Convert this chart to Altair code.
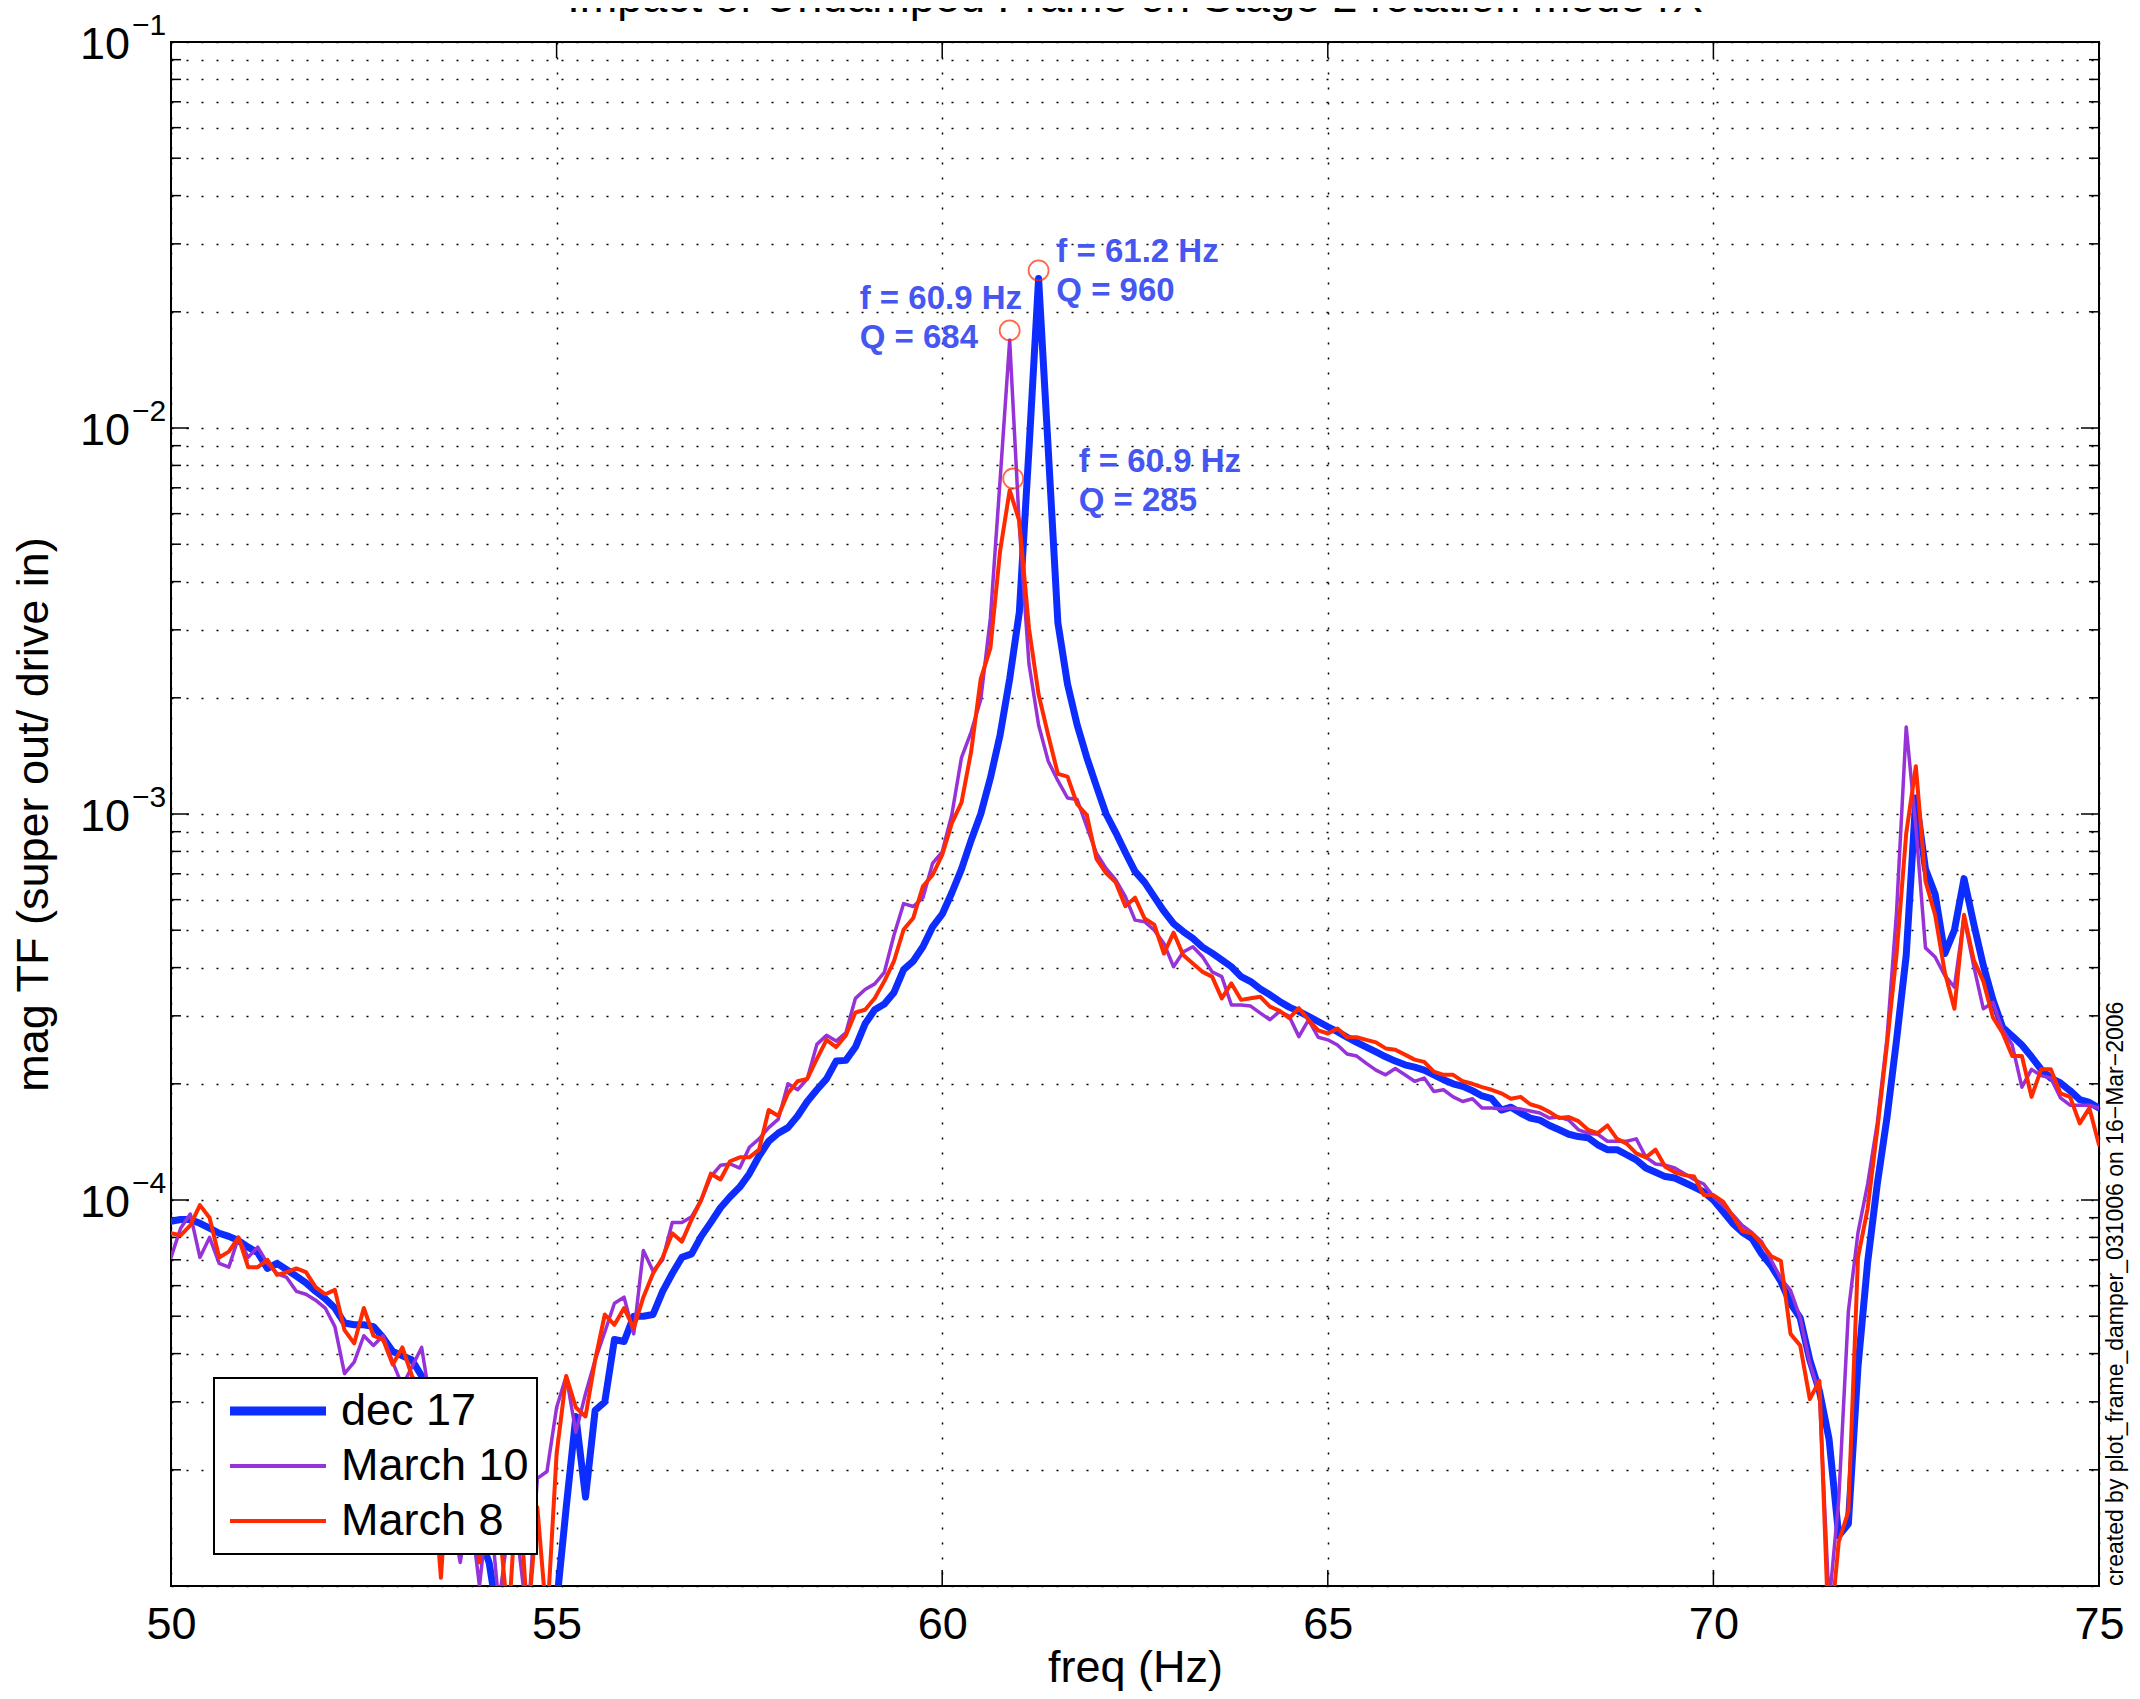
import altair as alt
import pandas as pd

# ---------------- data ----------------
# spectra sampled every 0.125 Hz from 50 Hz to 75 Hz
freq = [round(50 + 0.125 * i, 3) for i in range(201)]

dec17 = [
    8.8e-5, 8.9e-5, 8.9e-5, 8.7e-5, 8.45e-5, 8.2e-5, 8.05e-5, 7.85e-5,
    7.55e-5, 7.3e-5, 6.65e-5, 6.85e-5, 6.6e-5, 6.35e-5, 6.1e-5, 5.8e-5,
    5.55e-5, 5.25e-5, 4.8e-5, 4.75e-5, 4.75e-5, 4.7e-5, 4.4e-5, 4.05e-5,
    3.95e-5, 3.85e-5, 3.5e-5, 3.0e-5, 2.7e-5, 2.3e-5, 1.9e-5, 1.6e-5,
    1.35e-5, 1.15e-5, 8e-6, 7e-6, 6e-6, 6e-6, 6e-6, 7e-6,
    9e-6, 1.6e-5, 2.75e-5, 1.7e-5, 2.85e-5, 3.0e-5, 4.35e-5, 4.3e-5,
    5.0e-5, 5.0e-5, 5.05e-5, 5.8e-5, 6.45e-5, 7.1e-5, 7.25e-5, 8.05e-5,
    8.75e-5, 9.55e-5, 1.02e-4, 1.08e-4, 1.17e-4, 1.3e-4, 1.42e-4, 1.49e-4,
    1.54e-4, 1.65e-4, 1.8e-4, 1.93e-4, 2.06e-4, 2.29e-4, 2.3e-4, 2.49e-4,
    2.86e-4, 3.11e-4, 3.22e-4, 3.45e-4, 3.95e-4, 4.16e-4, 4.53e-4, 5.1e-4,
    5.5e-4, 6.25e-4, 7.2e-4, 8.55e-4, 1.0e-3, 1.24e-3, 1.6e-3, 2.24e-3,
    3.33e-3, 8.8e-3, 2.44e-2, 8.8e-3, 3.13e-3, 2.17e-3, 1.7e-3, 1.4e-3,
    1.18e-3, 1.0e-3, 8.95e-4, 7.95e-4, 7.1e-4, 6.65e-4, 6.1e-4, 5.6e-4,
    5.2e-4, 4.96e-4, 4.76e-4, 4.52e-4, 4.36e-4, 4.19e-4, 4.02e-4, 3.79e-4,
    3.68e-4, 3.52e-4, 3.4e-4, 3.27e-4, 3.16e-4, 3.08e-4, 2.99e-4, 2.9e-4,
    2.81e-4, 2.73e-4, 2.64e-4, 2.56e-4, 2.49e-4, 2.42e-4, 2.35e-4, 2.29e-4,
    2.24e-4, 2.21e-4, 2.17e-4, 2.11e-4, 2.05e-4, 2.0e-4, 1.97e-4, 1.92e-4,
    1.86e-4, 1.83e-4, 1.71e-4, 1.74e-4, 1.68e-4, 1.63e-4, 1.61e-4, 1.56e-4,
    1.52e-4, 1.48e-4, 1.46e-4, 1.45e-4, 1.39e-4, 1.35e-4, 1.35e-4, 1.31e-4,
    1.27e-4, 1.21e-4, 1.18e-4, 1.15e-4, 1.14e-4, 1.11e-4, 1.08e-4, 1.05e-4,
    1.0e-4, 9.33e-5, 8.7e-5, 8.25e-5, 7.95e-5, 7.25e-5, 6.75e-5, 6.15e-5,
    5.4e-5, 4.95e-5, 3.85e-5, 3.2e-5, 2.4e-5, 1.35e-5, 1.45e-5, 3.7e-5,
    6.9e-5, 1.1e-4, 1.63e-4, 2.6e-4, 4.3e-4, 1.1e-3, 7.2e-4, 6.2e-4,
    4.35e-4, 5.0e-4, 6.8e-4, 5.2e-4, 4.05e-4, 3.3e-4, 2.8e-4, 2.66e-4,
    2.52e-4, 2.35e-4, 2.18e-4, 2.07e-4, 2.01e-4, 1.92e-4, 1.82e-4, 1.79e-4,
    1.73e-4,
]

march10 = [
    7.1e-5, 8.45e-5, 9.2e-5, 7.1e-5, 8.0e-5, 6.85e-5, 6.7e-5, 8.0e-5,
    7.1e-5, 7.55e-5, 6.85e-5, 6.45e-5, 6.3e-5, 5.8e-5, 5.7e-5, 5.5e-5,
    5.25e-5, 4.7e-5, 3.55e-5, 3.8e-5, 4.45e-5, 4.2e-5, 4.45e-5, 3.8e-5,
    3.3e-5, 3.7e-5, 4.15e-5, 2.9e-5, 2.3e-5, 1.6e-5, 1.15e-5, 1.6e-5,
    1.0e-5, 1.7e-5, 9e-6, 1.4e-5, 1.3e-5, 8e-6, 1.9e-5, 1.98e-5,
    2.9e-5, 3.5e-5, 2.5e-5, 3.15e-5, 3.85e-5, 4.55e-5, 5.4e-5, 5.6e-5,
    4.5e-5, 7.4e-5, 6.55e-5, 7.0e-5, 8.75e-5, 8.75e-5, 9.05e-5, 1.0e-4,
    1.15e-4, 1.23e-4, 1.24e-4, 1.21e-4, 1.37e-4, 1.44e-4, 1.54e-4, 1.62e-4,
    2.0e-4, 1.93e-4, 2.06e-4, 2.53e-4, 2.67e-4, 2.58e-4, 2.71e-4, 3.33e-4,
    3.51e-4, 3.63e-4, 3.89e-4, 4.86e-4, 5.86e-4, 5.76e-4, 6.07e-4, 7.45e-4,
    7.98e-4, 9.97e-4, 1.4e-3, 1.63e-3, 1.98e-3, 3.22e-3, 7.3e-3, 1.69e-2,
    5.57e-3, 2.45e-3, 1.7e-3, 1.37e-3, 1.22e-3, 1.1e-3, 1.09e-3, 9.27e-4,
    7.91e-4, 7.23e-4, 6.75e-4, 6.11e-4, 5.31e-4, 5.26e-4, 5.0e-4, 4.62e-4,
    4.02e-4, 4.39e-4, 4.53e-4, 4.27e-4, 3.9e-4, 3.79e-4, 3.2e-4, 3.2e-4,
    3.18e-4, 3.05e-4, 2.93e-4, 3.08e-4, 2.99e-4, 2.65e-4, 2.93e-4, 2.64e-4,
    2.6e-4, 2.52e-4, 2.39e-4, 2.36e-4, 2.26e-4, 2.17e-4, 2.11e-4, 2.19e-4,
    2.11e-4, 2.03e-4, 2.07e-4, 1.91e-4, 1.93e-4, 1.85e-4, 1.8e-4, 1.83e-4,
    1.73e-4, 1.73e-4, 1.72e-4, 1.73e-4, 1.72e-4, 1.7e-4, 1.68e-4, 1.63e-4,
    1.64e-4, 1.61e-4, 1.52e-4, 1.49e-4, 1.48e-4, 1.42e-4, 1.42e-4, 1.42e-4,
    1.44e-4, 1.29e-4, 1.24e-4, 1.23e-4, 1.21e-4, 1.17e-4, 1.13e-4, 1.1e-4,
    1.02e-4, 9.68e-5, 9.16e-5, 8.59e-5, 8.23e-5, 7.79e-5, 6.98e-5, 6.26e-5,
    5.83e-5, 4.96e-5, 3.78e-5, 3.15e-5, 9e-6, 1.67e-5, 5.14e-5, 8.23e-5,
    1.1e-4, 1.58e-4, 2.61e-4, 5.58e-4, 1.68e-3, 9.27e-4, 4.5e-4, 4.26e-4,
    3.82e-4, 3.56e-4, 5.4e-4, 4.04e-4, 3.13e-4, 3.25e-4, 2.76e-4, 2.52e-4,
    1.96e-4, 2.18e-4, 2.1e-4, 2.07e-4, 1.84e-4, 1.76e-4, 1.76e-4, 1.76e-4,
    1.73e-4,
]

march8 = [
    8.2e-5, 8.1e-5, 8.6e-5, 9.7e-5, 9.0e-5, 7.1e-5, 7.35e-5, 8.0e-5,
    6.7e-5, 6.7e-5, 7.0e-5, 6.4e-5, 6.5e-5, 6.65e-5, 6.5e-5, 5.95e-5,
    5.7e-5, 5.85e-5, 4.6e-5, 4.25e-5, 5.25e-5, 4.45e-5, 4.35e-5, 3.75e-5,
    4.15e-5, 3.5e-5, 3.2e-5, 2.2e-5, 1.05e-5, 2.5e-5, 1.8e-5, 2.0e-5,
    1.15e-5, 2.2e-5, 1.5e-5, 8e-6, 2.0e-5, 8e-6, 1.6e-5, 8e-6,
    2.2e-5, 3.5e-5, 2.9e-5, 2.75e-5, 3.85e-5, 5.05e-5, 4.75e-5, 5.25e-5,
    4.65e-5, 5.6e-5, 6.45e-5, 7.1e-5, 8.2e-5, 7.8e-5, 8.9e-5, 1.0e-4,
    1.17e-4, 1.13e-4, 1.26e-4, 1.29e-4, 1.29e-4, 1.35e-4, 1.71e-4, 1.65e-4,
    1.89e-4, 2.03e-4, 2.06e-4, 2.32e-4, 2.6e-4, 2.49e-4, 2.67e-4, 3.06e-4,
    3.11e-4, 3.33e-4, 3.69e-4, 4.16e-4, 5.02e-4, 5.38e-4, 6.5e-4, 6.95e-4,
    7.84e-4, 9.47e-4, 1.07e-3, 1.45e-3, 2.24e-3, 2.69e-3, 4.79e-3, 6.9e-3,
    5.74e-3, 3.03e-3, 2.04e-3, 1.6e-3, 1.27e-3, 1.25e-3, 1.06e-3, 9.94e-4,
    7.65e-4, 7.03e-4, 6.65e-4, 5.77e-4, 6.07e-4, 5.36e-4, 5.17e-4, 4.35e-4,
    4.93e-4, 4.31e-4, 4.1e-4, 3.9e-4, 3.79e-4, 3.33e-4, 3.64e-4, 3.3e-4,
    3.33e-4, 3.36e-4, 3.17e-4, 3.09e-4, 2.96e-4, 3.14e-4, 2.93e-4, 2.75e-4,
    2.7e-4, 2.78e-4, 2.64e-4, 2.64e-4, 2.6e-4, 2.56e-4, 2.47e-4, 2.45e-4,
    2.38e-4, 2.31e-4, 2.28e-4, 2.15e-4, 2.11e-4, 2.11e-4, 2.03e-4, 2.0e-4,
    1.96e-4, 1.93e-4, 1.89e-4, 1.83e-4, 1.85e-4, 1.77e-4, 1.74e-4, 1.69e-4,
    1.63e-4, 1.64e-4, 1.6e-4, 1.52e-4, 1.49e-4, 1.56e-4, 1.44e-4, 1.4e-4,
    1.32e-4, 1.29e-4, 1.35e-4, 1.22e-4, 1.18e-4, 1.16e-4, 1.15e-4, 1.03e-4,
    1.03e-4, 9.9e-5, 9.1e-5, 8.3e-5, 8.2e-5, 7.7e-5, 7.15e-5, 6.95e-5,
    4.5e-5, 4.2e-5, 3.05e-5, 3.4e-5, 7e-6, 1.3e-5, 1.56e-5, 7.1e-5,
    9.5e-5, 1.52e-4, 2.52e-4, 4.33e-4, 8.9e-4, 1.33e-3, 6.7e-4, 5.48e-4,
    3.89e-4, 3.13e-4, 5.48e-4, 4.19e-4, 3.69e-4, 2.97e-4, 2.71e-4, 2.36e-4,
    2.36e-4, 1.85e-4, 2.18e-4, 2.18e-4, 1.89e-4, 1.85e-4, 1.58e-4, 1.73e-4,
    1.39e-4,
]

series_names = ["dec 17", "March 10", "March 8"]
series_colors = ["#0d2dff", "#9632d7", "#ff2a00"]
series_widths = [7, 3.5, 4]

# fitted resonance peaks (circles) and their labels
peak_freq = [61.25, 60.875, 60.92]
peak_mag = [0.0256, 0.0179, 0.0074]
peak_label_f = ["f = 61.2 Hz", "f = 60.9 Hz", "f = 60.9 Hz"]
peak_label_q = ["Q = 960", "Q = 684", "Q = 285"]
label_freq = [61.48, 58.93, 61.77]
label_mag = [2.686e-2, 2.03e-2, 7.70e-3]

x_tick_vals = [50, 55, 60, 65, 70, 75]
y_decades = [1e-5, 1e-4, 1e-3, 1e-2, 1e-1]
y_minor = [m * d for d in [1e-5, 1e-4, 1e-3, 1e-2] for m in range(2, 10)]
y_label_vals = [1e-4, 1e-3, 1e-2, 1e-1]
y_label_exp = ["\u22124", "\u22123", "\u22122", "\u22121"]

title_text = "Impact of Undamped Frame on Stage 2 rotation mode rX"
credit_text = "created by plot_frame_damper_031006 on 16\u2212Mar\u22122006"

# ---------------- layout ----------------
W, H = 1928, 1544
FONT = "Liberation Sans"

frames = []
for name, vals in zip(series_names, [dec17, march10, march8]):
    frames.append(pd.DataFrame({"freq": freq, "mag": vals, "series": name}))
lines_df = pd.concat(frames, ignore_index=True)

grid_vals = sorted(y_decades + y_minor)

X = alt.X(
    "freq:Q",
    scale=alt.Scale(domain=[50, 75], nice=False, zero=False),
    axis=alt.Axis(
        values=x_tick_vals, format="d", labelFontSize=45, labelFont=FONT,
        labelColor="black", labelFlush=False, labelOverlap=False,
        labelBaseline="alphabetic", labelPadding=52, ticks=False, domain=False,
        grid=True, gridDash=[2, 13], gridColor="black", gridWidth=1.5,
        title="freq (Hz)", titleFontSize=45, titleFont=FONT,
        titleFontWeight="normal", titleColor="black",
        titleBaseline="alphabetic", titleY=95,
    ),
)
Y = alt.Y(
    "mag:Q",
    scale=alt.Scale(type="log", domain=[1e-5, 1e-1], nice=False),
    axis=alt.Axis(
        values=grid_vals, labels=False, ticks=False, domain=False,
        grid=True, gridDash=[2, 13], gridColor="black", gridWidth=1.5,
        title="mag TF (super out/ drive in)", titleFontSize=45, titleFont=FONT,
        titleFontWeight="normal", titleColor="black", titleAngle=270,
        titleBaseline="alphabetic", titleAlign="center",
        titleX=-124, titleY=H / 2,
    ),
)

legend = alt.Legend(
    title=None, orient="none", legendX=43, legendY=1336,
    fillColor="white", strokeColor="black",
    padding=8, rowPadding=5, clipHeight=50,
    symbolType="stroke", symbolSize=9216, symbolOffset=6,
    symbolStrokeWidth={"expr": "(datum.value === 'dec 17' ? 9 : 4)"},
    labelOffset=13, labelLimit=500, labelFontSize=45, labelFont=FONT,
    labelColor="black",
)
color = alt.Color(
    "series:N",
    scale=alt.Scale(domain=series_names, range=series_colors),
    legend=legend,
)

line_layers = []
for name, w in zip(series_names, series_widths):
    line_layers.append(
        alt.Chart(lines_df)
        .transform_filter(alt.datum.series == name)
        .mark_line(clip=True, strokeWidth=w, strokeJoin="round", strokeCap="round")
        .encode(x=X, y=Y, color=color, order="freq:Q")
    )

# inward ticks (MATLAB style)
maj_df = pd.DataFrame({"mag": y_decades})
min_df = pd.DataFrame({"mag": y_minor})
xt_df = pd.DataFrame({"freq": x_tick_vals})
tick_kw = dict(color="black", strokeWidth=1.5)
ticks = [
    alt.Chart(maj_df).mark_rule(**tick_kw).encode(y=Y, x=alt.value(0), x2=alt.value(18)),
    alt.Chart(maj_df).mark_rule(**tick_kw).encode(y=Y, x=alt.value(W - 18), x2=alt.value(W)),
    alt.Chart(min_df).mark_rule(**tick_kw).encode(y=Y, x=alt.value(0), x2=alt.value(10)),
    alt.Chart(min_df).mark_rule(**tick_kw).encode(y=Y, x=alt.value(W - 10), x2=alt.value(W)),
    alt.Chart(xt_df).mark_rule(**tick_kw).encode(x=X, y=alt.value(H - 16), y2=alt.value(H)),
    alt.Chart(xt_df).mark_rule(**tick_kw).encode(x=X, y=alt.value(0), y2=alt.value(16)),
]

# y tick labels 10^k
ylab_df = pd.DataFrame({"mag": y_label_vals, "base": ["10"] * 4, "exp": y_label_exp})
ylab_base = alt.Chart(ylab_df).mark_text(
    align="right", baseline="alphabetic", fontSize=45, font=FONT, color="black", dy=17
).encode(x=alt.value(-41), y=Y, text="base:N")
ylab_exp = alt.Chart(ylab_df).mark_text(
    align="left", baseline="alphabetic", fontSize=30, font=FONT, color="black", dy=-7
).encode(x=alt.value(-39), y=Y, text="exp:N")

# peak markers and labels
peaks_df = pd.DataFrame({"freq": peak_freq, "mag": peak_mag})
circles = alt.Chart(peaks_df).mark_point(
    shape="circle", filled=False, size=400, color="#ff2a00", strokeWidth=1.8
).encode(x=X, y=Y)
lab_df = pd.DataFrame({"freq": label_freq, "mag": label_mag,
                       "lf": peak_label_f, "lq": peak_label_q})
ann_kw = dict(align="left", baseline="alphabetic", fontSize=33, fontWeight="bold",
              font=FONT, color="#4656f0")
ann_f = alt.Chart(lab_df).mark_text(**ann_kw).encode(x=X, y=Y, text="lf:N")
ann_q = alt.Chart(lab_df).mark_text(dy=39, **ann_kw).encode(x=X, y=Y, text="lq:N")

# title (partly cut off at the top in the reference) and credit line
title_layer = alt.Chart(pd.DataFrame({"t": [title_text]})).mark_text(
    align="center", baseline="alphabetic", fontSize=45, font=FONT, color="black"
).encode(x=alt.value(W / 2), y=alt.value(-30), text="t:N")
credit_layer = alt.Chart(pd.DataFrame({"t": [credit_text]})).mark_text(
    align="left", baseline="middle", fontSize=23, font=FONT, color="black", angle=270
).encode(x=alt.value(W + 17), y=alt.value(H), text="t:N")

chart = (
    alt.layer(*ticks, *line_layers, circles, ann_f, ann_q,
              ylab_base, ylab_exp, title_layer, credit_layer)
    .properties(
        width=W, height=H,
        autosize=alt.AutoSizeParams(type="none"),
        padding={"left": 163, "top": 34, "right": 33, "bottom": 105},
        background="white",
    )
    .configure(font=FONT)
    .configure_view(stroke="black", strokeWidth=2)
    .configure_legend(strokeWidth=2)
)

chart.save("out.html", embed_options={"renderer": "svg", "actions": False})
